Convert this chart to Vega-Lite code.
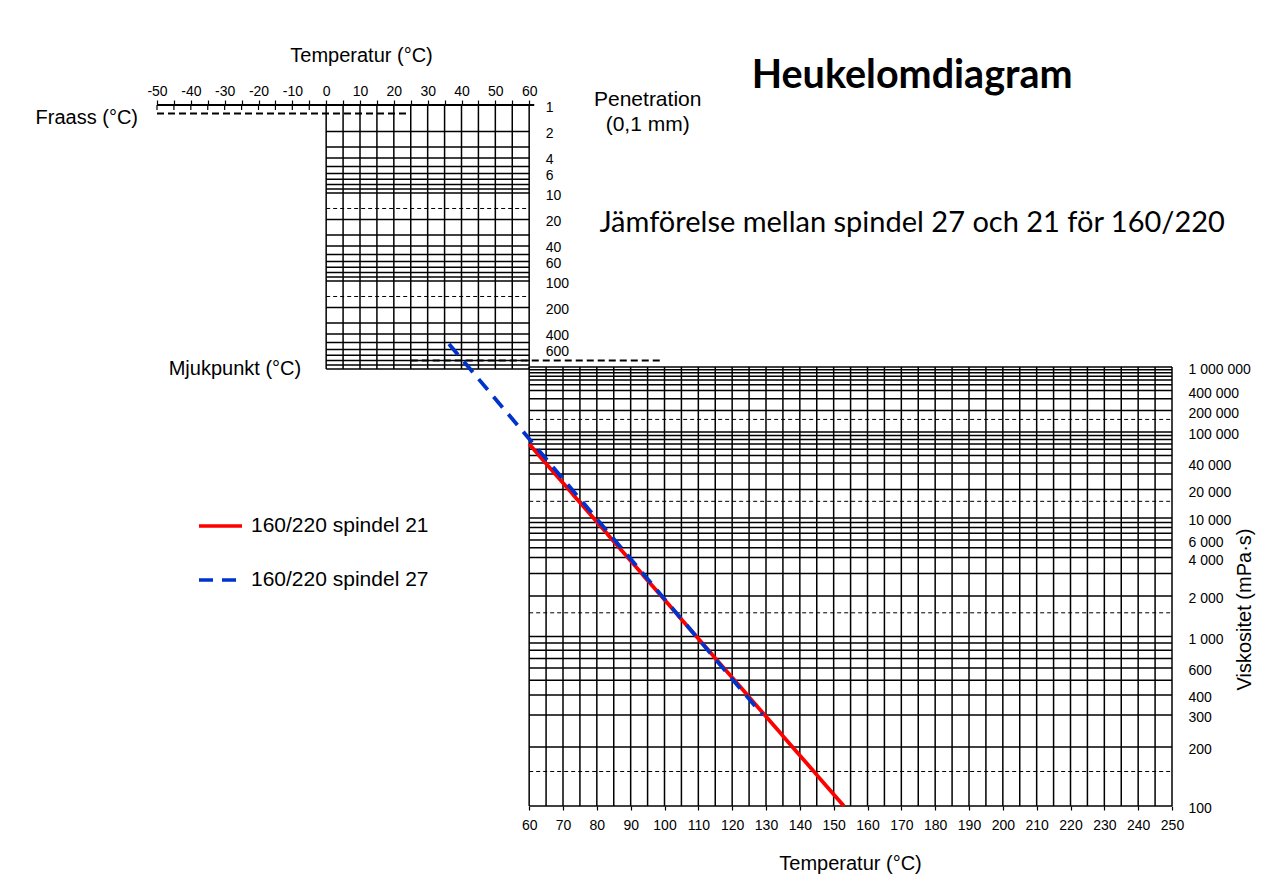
{
  "$schema": "https://vega.github.io/schema/vega-lite/v6.json",
  "width": 1015,
  "height": 701,
  "autosize": "none",
  "padding": {"left": 157, "top": 105, "right": 110, "bottom": 77},
  "background": "white",
  "config": {
    "view": {"stroke": null},
    "font": "Liberation Sans",
    "axis": {"labelFont": "Liberation Sans", "titleFont": "Liberation Sans", "labelColor": "#000", "titleColor": "#000", "tickColor": "#000", "titleFontWeight": "normal", "labelFontSize": 14, "titleFontSize": 20, "grid": false}
  },
  "datasets": {
    "penV": [{"t":0},{"t":5},{"t":10},{"t":15},{"t":20},{"t":25},{"t":30},{"t":35},{"t":40},{"t":45},{"t":50},{"t":55},{"t":60}],
    "penH": [{"p":2},{"p":3},{"p":4},{"p":5},{"p":6},{"p":7},{"p":8},{"p":9},{"p":10},{"p":20},{"p":30},{"p":40},{"p":50},{"p":60},{"p":70},{"p":80},{"p":90},{"p":100},{"p":200},{"p":300},{"p":400},{"p":500},{"p":600},{"p":700},{"p":800},{"p":900},{"p":1000}],
    "penDash": [{"p":15},{"p":150}],
    "tickDown": [{"t":-50},{"t":-45},{"t":-40},{"t":-35},{"t":-30},{"t":-25},{"t":-20},{"t":-15},{"t":-10},{"t":-5}],
    "refLines": [{"name":"Fraass","from":-50,"to":25,"pen":1.25},{"name":"Mjukpunkt","from":25,"to":99,"pen":800}],
    "viscV": [{"t":60},{"t":65},{"t":70},{"t":75},{"t":80},{"t":85},{"t":90},{"t":95},{"t":100},{"t":105},{"t":110},{"t":115},{"t":120},{"t":125},{"t":130},{"t":135},{"t":140},{"t":145},{"t":150},{"t":155},{"t":160},{"t":165},{"t":170},{"t":175},{"t":180},{"t":185},{"t":190},{"t":195},{"t":200},{"t":205},{"t":210},{"t":215},{"t":220},{"t":225},{"t":230},{"t":235},{"t":240},{"t":245},{"t":250}],
    "viscH": [{"v":100},{"v":200},{"v":300},{"v":400},{"v":500},{"v":600},{"v":700},{"v":800},{"v":900},{"v":1000},{"v":2000},{"v":3000},{"v":4000},{"v":5000},{"v":6000},{"v":7000},{"v":8000},{"v":9000},{"v":10000},{"v":20000},{"v":30000},{"v":40000},{"v":50000},{"v":60000},{"v":70000},{"v":80000},{"v":90000},{"v":100000},{"v":200000},{"v":300000},{"v":400000},{"v":500000},{"v":600000},{"v":700000},{"v":800000},{"v":900000},{"v":1000000}],
    "viscDash": [{"v":150},{"v":1500},{"v":15000},{"v":150000}],
    "series": [
      {"serie":"160/220 spindel 21","t":60,"visc":70000},
      {"serie":"160/220 spindel 21","t":153,"visc":100},
      {"serie":"160/220 spindel 27","t":36.3,"visc":2450000},
      {"serie":"160/220 spindel 27","t":129,"visc":300}
    ]
  },
  "layer": [
    {
      "layer": [
        {
          "data": {"name": "penV"},
          "mark": {"type": "rule", "color": "#000", "strokeWidth": 1.5},
          "encoding": {
            "x": {"field": "t", "type": "quantitative", "scale": {"domain": [-50, 250], "nice": false, "zero": false},
              "axis": {"orient": "top", "values": [-50,-45,-40,-35,-30,-25,-20,-15,-10,-5,0,5,10,15,20,25,30,35,40,45,50,55,60], "labelExpr": "datum.value % 10 == 0 ? '' + datum.value : ''", "labelOverlap": false, "labelFlush": false, "labelFontSize": 14, "domain": false, "tickSize": 5, "tickWidth": 1.2, "labelPadding": 2, "title": "Temperatur (°C)", "titleX": 204, "titleY": -50, "titleBaseline": "middle", "titleAlign": "center"}},
            "y": {"datum": 1, "type": "quantitative"},
            "y2": {"datum": 1000}
          }
        },
        {
          "data": {"name": "penH"},
          "mark": {"type": "rule", "color": "#000", "strokeWidth": 1.5},
          "encoding": {
            "x": {"datum": 0, "type": "quantitative"},
            "x2": {"datum": 60},
            "y": {"field": "p", "type": "quantitative", "scale": {"type": "log", "domain": [1, 1000], "range": [0, 264], "nice": false},
              "axis": {"orient": "right", "offset": -642.8, "values": [1,2,4,6,10,20,40,60,100,200,400,600], "format": "d", "ticks": false, "domain": false, "labelFontSize": 14, "labelPadding": 16, "labelOffset": 2, "title": ["Penetration", "(0,1 mm)"], "titleFontSize": 21, "titleAngle": 0, "titleAlign": "center", "titleBaseline": "top", "titleX": 118, "titleY": -17, "titleLineHeight": 25}}
          }
        },
        {
          "data": {"values": [{"p": 1}]},
          "mark": {"type": "rule", "color": "#000", "strokeWidth": 2},
          "encoding": {
            "x": {"datum": -50, "type": "quantitative"},
            "x2": {"datum": 61.5},
            "y": {"field": "p", "type": "quantitative"}
          }
        },
        {
          "data": {"name": "tickDown"},
          "mark": {"type": "rule", "color": "#000", "strokeWidth": 1.2},
          "encoding": {
            "x": {"field": "t", "type": "quantitative"},
            "y": {"datum": 1, "type": "quantitative"},
            "y2": {"datum": 1.14}
          }
        },
        {
          "data": {"name": "penDash"},
          "mark": {"type": "rule", "color": "#000", "strokeWidth": 1, "strokeDash": [4, 3]},
          "encoding": {
            "x": {"datum": 0, "type": "quantitative"},
            "x2": {"datum": 60},
            "y": {"field": "p", "type": "quantitative"}
          }
        },
        {
          "data": {"name": "refLines"},
          "mark": {"type": "rule", "color": "#000", "strokeWidth": 2, "strokeDash": [7, 4]},
          "encoding": {
            "x": {"field": "from", "type": "quantitative"},
            "x2": {"field": "to"},
            "y": {"field": "pen", "type": "quantitative"}
          }
        },
        {
          "data": {"values": [{"label": "Fraass (°C)", "t": -50, "pen": 1.25}]},
          "mark": {"type": "text", "font": "Liberation Sans", "fontSize": 20, "align": "right", "baseline": "middle", "dx": -19, "dy": 4, "color": "#000"},
          "encoding": {
            "x": {"field": "t", "type": "quantitative"},
            "y": {"field": "pen", "type": "quantitative"},
            "text": {"field": "label"}
          }
        },
        {
          "data": {"values": [{"label": "Mjukpunkt  (°C)", "t": 0, "pen": 1000}]},
          "mark": {"type": "text", "font": "Liberation Sans", "fontSize": 20, "align": "right", "baseline": "middle", "dx": -25, "dy": 0, "color": "#000"},
          "encoding": {
            "x": {"field": "t", "type": "quantitative"},
            "y": {"field": "pen", "type": "quantitative"},
            "text": {"field": "label"}
          }
        },
        {
          "data": {"values": [{"label": "Heukelomdiagram", "t": 173.2, "pen": 0.468}]},
          "mark": {"type": "text", "font": "Lato", "fontWeight": "bold", "fontSize": 39.5, "align": "center", "baseline": "middle", "color": "#000"},
          "encoding": {
            "x": {"field": "t", "type": "quantitative"},
            "y": {"field": "pen", "type": "quantitative"},
            "text": {"field": "label"}
          }
        },
        {
          "data": {"values": [{"label": "Jämförelse mellan spindel 27 och 21 för 160/220", "t": 173.2, "pen": 22.1}]},
          "mark": {"type": "text", "font": "Lato", "fontSize": 29, "align": "center", "baseline": "middle", "color": "#000"},
          "encoding": {
            "x": {"field": "t", "type": "quantitative"},
            "y": {"field": "pen", "type": "quantitative"},
            "text": {"field": "label"}
          }
        }
      ]
    },
    {
      "layer": [
        {
          "data": {"name": "viscV"},
          "mark": {"type": "rule", "color": "#000", "strokeWidth": 1.5},
          "encoding": {
            "x": {"field": "t", "type": "quantitative", "scale": {"domain": [-50, 250], "nice": false, "zero": false},
              "axis": {"orient": "bottom", "values": [60,70,80,90,100,110,120,130,140,150,160,170,180,190,200,210,220,230,240,250], "labelExpr": "'' + datum.value", "labelOverlap": false, "labelFlush": false, "labelFontSize": 14, "domain": false, "tickSize": 4, "tickWidth": 1.2, "labelPadding": 8, "title": "Temperatur (°C)", "titleX": 693, "titleY": 57, "titleBaseline": "middle", "titleAlign": "center"}},
            "y": {"datum": 1000000, "type": "quantitative"},
            "y2": {"datum": 100}
          }
        },
        {
          "data": {"name": "viscH"},
          "mark": {"type": "rule", "color": "#000", "strokeWidth": 1.5},
          "encoding": {
            "x": {"datum": 60, "type": "quantitative"},
            "x2": {"datum": 250},
            "y": {"field": "v", "type": "quantitative",
              "scale": {"type": "log", "nice": false,
                "domain": [1000000, 400000, 200000, 100000, 40000, 20000, 10000, 6000, 4000, 2000, 1000, 600, 400, 300, 200, 100],
                "range": [262, 285.5, 305.5, 327, 358, 384.5, 413, 435, 452.5, 491, 531.5, 563, 590, 610, 642, 701]},
              "axis": {"orient": "right", "values": [1000000, 400000, 200000, 100000, 40000, 20000, 10000, 6000, 4000, 2000, 1000, 600, 400, 300, 200, 100], "labelExpr": "replace(replace(format(datum.value, ','), ',', ' '), ',', ' ')", "labelOverlap": false, "labelFontSize": 14, "ticks": false, "domain": false, "labelPadding": 16, "labelOffset": 2.5, "title": "Viskositet (mPa·s)", "titleAngle": 270, "titleAlign": "center", "titleBaseline": "middle", "titleX": 72, "titleY": 504}}
          }
        },
        {
          "data": {"name": "viscDash"},
          "mark": {"type": "rule", "color": "#000", "strokeWidth": 1, "strokeDash": [4, 3]},
          "encoding": {
            "x": {"datum": 60, "type": "quantitative"},
            "x2": {"datum": 250},
            "y": {"field": "v", "type": "quantitative"}
          }
        },
        {
          "data": {"name": "series"},
          "mark": {"type": "line", "strokeWidth": 3.8, "strokeCap": "butt"},
          "encoding": {
            "x": {"field": "t", "type": "quantitative"},
            "y": {"field": "visc", "type": "quantitative"},
            "color": {"field": "serie", "type": "nominal",
              "scale": {"domain": ["160/220 spindel 21", "160/220 spindel 27"], "range": ["#ff0000", "#0033cc"]},
              "legend": {"title": null, "orient": "none", "legendX": 40, "legendY": 397.5, "symbolType": "stroke", "symbolSize": 1849, "symbolStrokeWidth": 3.5, "labelFont": "Liberation Sans", "labelFontSize": 21, "labelColor": "#000", "labelLimit": 400, "rowPadding": 20, "labelOffset": 7, "padding": 0}},
            "strokeDash": {"field": "serie", "type": "nominal",
              "scale": {"domain": ["160/220 spindel 21", "160/220 spindel 27"], "range": [[1, 0], [14, 9]]},
              "legend": {"title": null, "orient": "none", "legendX": 40, "legendY": 397.5, "symbolType": "stroke", "symbolSize": 1849, "symbolStrokeWidth": 3.5, "labelFont": "Liberation Sans", "labelFontSize": 21, "labelColor": "#000", "labelLimit": 400, "rowPadding": 20, "labelOffset": 7, "padding": 0}}
          }
        }
      ]
    }
  ],
  "resolve": {"scale": {"y": "independent"}, "axis": {"x": "independent", "y": "independent"}}
}
